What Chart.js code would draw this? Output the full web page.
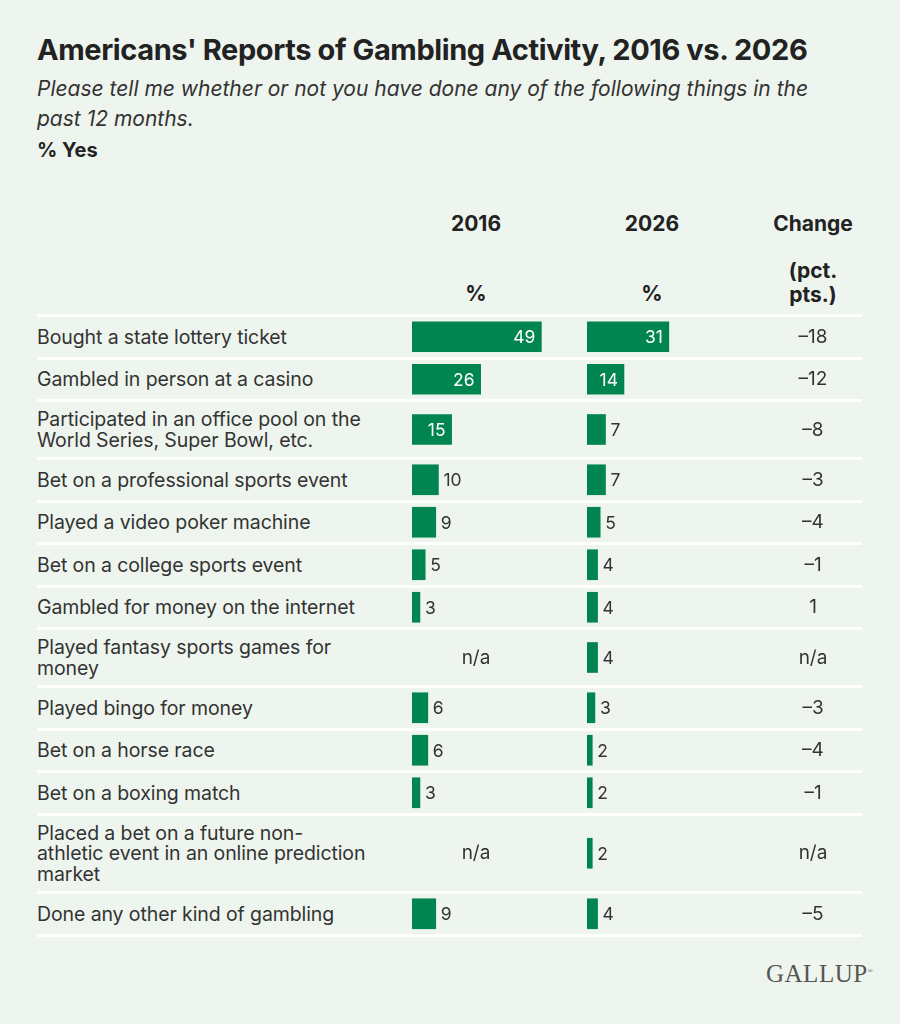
<!DOCTYPE html>
<html><head><meta charset="utf-8">
<script src="https://cdn.jsdelivr.net/npm/chart.js@4"></script>
<style>
body{margin:0;background:#eef5ee;font-family:Inter,"Noto Sans",sans-serif;color:#333;}
#wrap{position:relative;width:900px;height:1024px;}
h1{position:absolute;left:37px;top:32px;margin:0;font-size:29px;font-weight:700;color:#222;letter-spacing:-0.4px;white-space:nowrap}
.sub{position:absolute;left:37px;top:74px;width:860px;font-size:21px;font-style:italic;line-height:30px;color:#333;white-space:nowrap}
.yes{position:absolute;left:37px;top:138px;font-size:20px;font-weight:700;color:#222}
.hd{position:absolute;font-size:21px;font-weight:700;color:#222;text-align:center;width:120px;line-height:24px}
#table{position:absolute;left:37px;top:314px;width:825px;border-top:3px solid #fff}
.row{box-sizing:border-box;min-height:42.5px;padding:7px 0 7px;line-height:20.5px;border-bottom:3px solid #fff;display:flex;align-items:center;font-size:19.5px}
.lab{width:350px;letter-spacing:-0.1px}
.na{position:absolute;width:80px;text-align:center;font-size:19px;margin-left:-40px}
.chg{position:absolute;width:80px;text-align:center;font-size:19px;left:773px}
canvas{position:absolute}
.logo{position:absolute;left:766px;top:960px;font-family:"Liberation Serif",serif;font-size:25px;color:#555;letter-spacing:0.5px}
</style></head><body>
<div id="wrap">
<h1>Americans' Reports of Gambling Activity, 2016 vs. 2026</h1>
<div class="sub">Please tell me whether or not you have done any of the following things in the<br>past 12 months.</div>
<div class="yes">% Yes</div>
<div class="hd" style="left:416px;top:212px">2016</div>
<div class="hd" style="left:592px;top:212px">2026</div>
<div class="hd" style="left:753px;top:212px">Change</div>
<div class="hd" style="left:416px;top:282px">%</div>
<div class="hd" style="left:592px;top:282px">%</div>
<div class="hd" style="left:753px;top:259px">(pct.<br>pts.)</div>
<div id="table"></div>
<canvas id="c16" width="200" height="640"></canvas>
<canvas id="c26" width="200" height="640"></canvas>
<div id="extra"></div>
<div class="logo">GALLUP<sup style="font-size:7px">®</sup></div>
</div>
<script>
const categories=["Bought a state lottery ticket","Gambled in person at a casino","Participated in an office pool on the<br>World Series, Super Bowl, etc.","Bet on a professional sports event","Played a video poker machine","Bet on a college sports event","Gambled for money on the internet","Played fantasy sports games for<br>money","Played bingo for money","Bet on a horse race","Bet on a boxing match","Placed a bet on a future non-<br>athletic event in an online prediction<br>market","Done any other kind of gambling"];
const values2016=[49,26,15,10,9,5,3,null,6,6,3,null,9];
const values2026=[31,14,7,7,5,4,4,4,3,2,2,2,4];
const changes=["\u201318","\u201312","\u20138","\u20133","\u20134","\u20131","1","n/a","\u20133","\u20134","\u20131","n/a","\u20135"];

const table=document.getElementById('table');
const rows=categories.map(c=>{const r=document.createElement('div');r.className='row';r.innerHTML='<div class="lab">'+c+'</div>';table.appendChild(r);return r;});
const top0=317, canH=640;
const wrapTop=document.getElementById('wrap').getBoundingClientRect().top;
const centers=rows.map(r=>{const b=r.getBoundingClientRect();return b.top-wrapTop+(b.height-3)/2-top0;});
const extra=document.getElementById('extra');
rows.forEach((r,i)=>{
  const y=top0+centers[i]-12;
  const ch=document.createElement('div');ch.className='chg';ch.style.top=y+'px';ch.textContent=changes[i];extra.appendChild(ch);
  if(values2016[i]==null){const n=document.createElement('div');n.className='na';n.style.left='476px';n.style.top=y+'px';n.textContent='n/a';extra.appendChild(n);}
});
const green='#008450';
const lblPlugin={id:'lbl',afterDatasetsDraw(ch){const ctx=ch.ctx;ch.getDatasetMeta(0).data.forEach((el,i)=>{const v=ch.data.datasets[0].data[i].x;if(v==null)return;ctx.save();ctx.font='17.5px Inter, sans-serif';ctx.textBaseline='middle';if(v>=14){ctx.fillStyle='#fff';ctx.textAlign='right';ctx.fillText(v,el.x-6,el.y+1);}else{ctx.fillStyle='#333';ctx.textAlign='left';ctx.fillText(v,el.x+5,el.y+1);}ctx.restore();});}};
function make(id,left,vals){
  const cv=document.getElementById(id);cv.style.left=left+'px';cv.style.top=top0+'px';
  return new Chart(cv,{type:'bar',data:{datasets:[{data:vals.map((v,i)=>({x:v,y:centers[i]})),backgroundColor:green,barThickness:30}]},
   options:{responsive:false,animation:false,indexAxis:'y',layout:{padding:0},
    plugins:{legend:{display:false},tooltip:{enabled:false}},
    scales:{x:{type:'linear',min:0,max:200/2.64,display:false},y:{type:'linear',min:0,max:canH,reverse:true,offset:false,display:false}}},
   plugins:[lblPlugin]});
}
make('c16',412,values2016);
make('c26',587,values2026);
</script>
</body></html>
